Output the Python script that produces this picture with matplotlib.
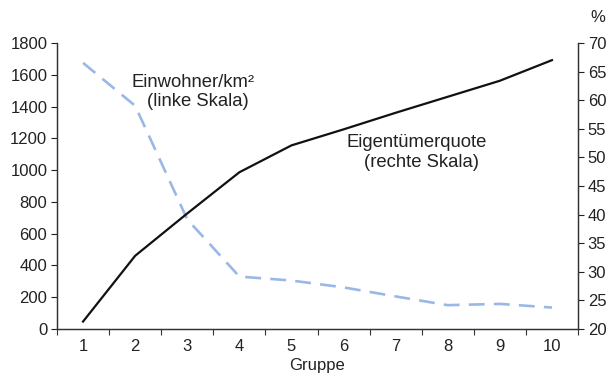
import matplotlib
matplotlib.use("Agg")
import matplotlib.pyplot as plt
import numpy as np

plt.rcParams['font.family'] = ['Liberation Sans', 'DejaVu Sans']

gruppe = [1, 2, 3, 4, 5, 6, 7, 8, 9, 10]
einwohner = [1675, 1405, 690, 330, 305, 262, 205, 150, 158, 135]
quote = [21.3, 32.8, 40.2, 47.4, 52.1, 54.9, 57.8, 60.6, 63.4, 67.0]
left_ticks = [0, 200, 400, 600, 800, 1000, 1200, 1400, 1600, 1800]
right_ticks = [20, 25, 30, 35, 40, 45, 50, 55, 60, 65, 70]

fig = plt.figure(figsize=(6.15, 3.74), dpi=100)
ax = fig.add_axes([57/615, 1-329/374, (578-57)/615, (329-43)/374])
ax2 = ax.twinx()

tc = '#222222'
fs = 12
afs = 13.3

ax.plot(gruppe, einwohner, color='#9ab8e6', lw=1.9, dashes=(6, 3.5), zorder=2)
ax2.plot(gruppe, quote, color='#111111', lw=1.6, zorder=3)

ax.set_xlim(0.5, 10.5)
ax.set_ylim(0, 1800)
ax2.set_ylim(20, 70)
ax.set_yticks(left_ticks)
ax2.set_yticks(right_ticks)

ax.set_xticks(gruppe)
ax.set_xticks(np.arange(0.5, 11, 1.0), minor=True)
ax.tick_params(axis='x', which='major', length=0, labelsize=fs, colors=tc, pad=7)
ax.tick_params(axis='x', which='minor', length=4, width=0.8, direction='out', color='#333333')
ax.tick_params(axis='y', length=4, width=0.8, labelsize=fs, colors=tc, pad=3)
ax2.tick_params(axis='y', length=4, width=0.8, labelsize=fs, colors=tc, pad=3)

for a in (ax, ax2):
    a.spines['top'].set_visible(False)
    for s in ('left', 'right', 'bottom'):
        a.spines[s].set_linewidth(0.9)
        a.spines[s].set_color('#333333')

ax.set_xlabel('Gruppe', fontsize=fs, color=tc, labelpad=3)

fig.text(598/615, 1-17/374, '%', fontsize=fs, color=tc, ha='center', va='center')
fig.text(193/615, 1-87/374, 'Einwohner/km²', fontsize=afs, color=tc, ha='center', va='baseline')
fig.text(198/615, 1-106/374, '(linke Skala)', fontsize=afs, color=tc, ha='center', va='baseline')
fig.text(417/615, 1-147/374, 'Eigentümerquote', fontsize=afs, color=tc, ha='center', va='baseline')
fig.text(422/615, 1-167/374, '(rechte Skala)', fontsize=afs, color=tc, ha='center', va='baseline')

fig.savefig('out.png', dpi=100)
